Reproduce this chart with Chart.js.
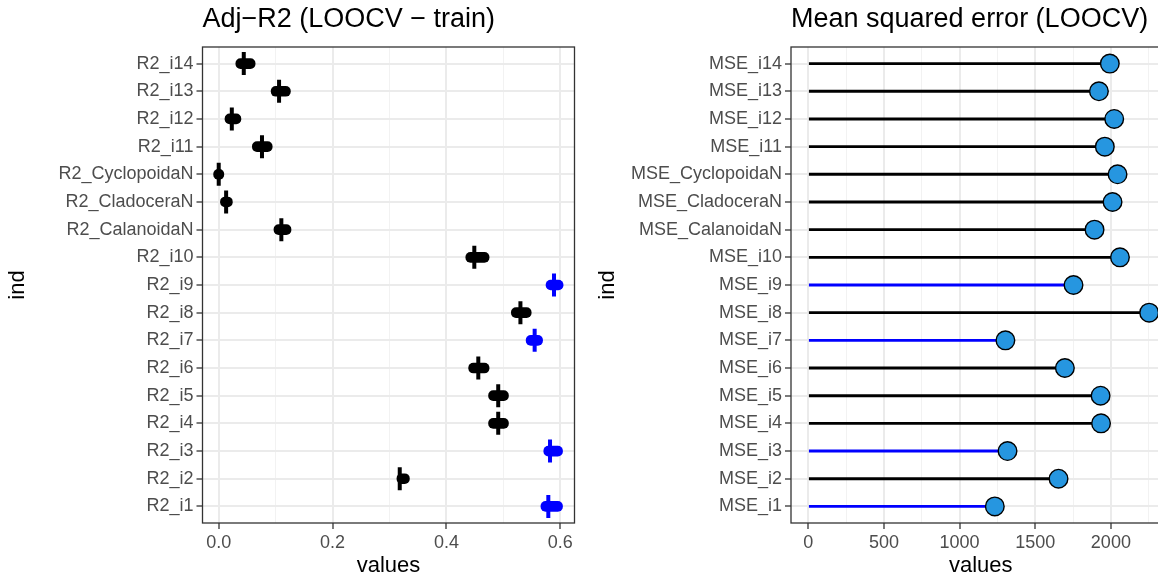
<!DOCTYPE html>
<html>
<head>
<meta charset="utf-8">
<script src="https://cdn.jsdelivr.net/npm/chart.js@4.4.1/dist/chart.umd.min.js"></script>
<style>
  html, body { margin: 0; padding: 0; background: #ffffff; overflow: hidden; width: 1158px; height: 575px; }
  #wrapL { position: absolute; left: 0; top: 0; width: 590px; height: 575px; }
  #wrapR { position: absolute; left: 590px; top: 0; width: 600px; height: 575px; }
</style>
</head>
<body>
<div id="wrapL"><canvas id="left" width="590" height="575"></canvas></div>
<div id="wrapR"><canvas id="right" width="600" height="575"></canvas></div>
<script>
// ---------- DATA (index 0 = bottom row) ----------
const groups = ['i1','i2','i3','i4','i5','i6','i7','i8','i9','i10',
                'CalanoidaN','CladoceraN','CyclopoidaN','i11','i12','i13','i14'];
const r2Labels  = groups.map(g => 'R2_' + g);
const mseLabels = groups.map(g => 'MSE_' + g);

// Adj-R2 LOOCV spread: low end, high end, median
const r2Low    = [0.566, 0.313, 0.571, 0.474, 0.474, 0.439, 0.540, 0.514, 0.575, 0.434,
                  0.097, 0.003, -0.009, 0.059, 0.011, 0.092, 0.030];
const r2High   = [0.604, 0.335, 0.604, 0.509, 0.509, 0.475, 0.569, 0.549, 0.605, 0.475,
                  0.127, 0.024, 0.009, 0.094, 0.039, 0.126, 0.064];
const r2Median = [0.579, 0.318, 0.582, 0.491, 0.491, 0.456, 0.555, 0.530, 0.589, 0.449,
                  0.110, 0.013, 0.000, 0.076, 0.023, 0.106, 0.044];

// Mean squared error (LOOCV)
const mseValues = [1233, 1654, 1317, 1935, 1932, 1696, 1303, 2253, 1753, 2060,
                   1892, 2011, 2044, 1960, 2022, 1921, 1993];

// selected models (drawn in blue)
const selected = [1,0,1,0,0,0,1,0,1,0,0,0,0,0,0,0,0];

// labelled (major) ticks and all grid positions (major + minor)
const r2Ticks     = [0, 0.2, 0.4, 0.6];
const r2GridTicks = [0, 0.1, 0.2, 0.3, 0.4, 0.5, 0.6];
const mseTicks     = [0, 500, 1000, 1500, 2000];
const mseGridTicks = [0, 250, 500, 750, 1000, 1250, 1500, 1750, 2000, 2250];

// ---------- STYLE ----------
const FONT = "'Liberation Sans', Arial, Helvetica, sans-serif";
const colorOf = i => selected[i] ? '#0000ff' : '#000000';
const GRID = '#ebebeb';

function isMajor(c, list) {
  if (!c || !c.tick) return true;
  const v = c.tick.value;
  return list.some(t => Math.abs(t - v) < 1e-6);
}
function isMajorVal(v, list) { return list.some(t => Math.abs(t - v) < 1e-6); }

const panelPlugin = {
  id: 'panel',
  afterDraw(chart, args, opts) {
    const {ctx, chartArea: a} = chart;
    ctx.save();
    ctx.strokeStyle = '#333333';
    ctx.lineWidth = 1.3;
    ctx.strokeRect(a.left, a.top, a.right - a.left, a.bottom - a.top);
    ctx.fillStyle = '#000000';
    ctx.font = '27px ' + FONT;
    ctx.textAlign = 'left';
    ctx.textBaseline = 'alphabetic';
    ctx.fillText(opts.title, a.left, 27);
    ctx.restore();
  }
};

function makeOptions(cfg) {
  return {
    responsive: false,
    animation: false,
    events: [],
    indexAxis: 'y',
    layout: { padding: { top: 47, bottom: 0, left: 0, right: cfg.padRight } },
    plugins: { legend: { display: false }, tooltip: { enabled: false }, panel: { title: cfg.title } },
    scales: {
      x: {
        type: 'linear',
        offset: false,
        min: cfg.xmin, max: cfg.xmax,
        afterFit: s => { s.height = 52; },
        afterBuildTicks: s => { s.ticks = cfg.grid.map(v => ({ value: v })); },
        border: { display: false },
        grid: {
          offset: false,
          color: c => isMajor(c, cfg.major) ? GRID : '#f2f2f2',
          lineWidth: c => isMajor(c, cfg.major) ? 2 : 1,
          tickColor: c => isMajor(c, cfg.major) ? '#333333' : 'rgba(0,0,0,0)',
          tickLength: 6,
          tickWidth: 1.3
        },
        ticks: {
          autoSkip: false,
          maxRotation: 0,
          padding: 3,
          color: '#4d4d4d',
          font: { family: FONT, size: 18 },
          callback: v => isMajorVal(v, cfg.major) ? cfg.fmt(v) : ''
        },
        title: { display: true, text: 'values', color: '#000000',
                 font: { family: FONT, size: 22 }, padding: { top: 0, bottom: -4 } }
      },
      y: {
        type: 'linear',
        offset: false,
        min: -0.6, max: 16.6,
        afterFit: s => { s.width = cfg.yWidth; },
        afterBuildTicks: s => { s.ticks = cfg.labels.map((l, i) => ({ value: i })); },
        border: { display: false },
        grid: { offset: false, color: GRID, lineWidth: 2, tickColor: '#333333', tickLength: 6, tickWidth: 1.3 },
        ticks: {
          autoSkip: false,
          padding: 3,
          color: '#4d4d4d',
          font: { family: FONT, size: 18 },
          callback: v => cfg.labels[Math.round(v)] ?? ''
        },
        title: { display: true, text: 'ind', color: '#000000',
                 font: { family: FONT, size: 22 }, padding: { top: 5, bottom: 0 } }
      }
    }
  };
}

// ---------- LEFT: Adj-R2 ----------
new Chart(document.getElementById('left'), {
  type: 'bar',
  data: {
    datasets: [
      {
        type: 'bar',
        order: 1,
        data: groups.map((g, i) => ({ y: i, x: [r2Low[i], r2High[i]] })),
        backgroundColor: groups.map((g, i) => colorOf(i)),
        borderWidth: 0,
        barThickness: 10,
        borderRadius: 5,
        borderSkipped: false
      },
      {
        type: 'scatter',
        order: 0,
        data: groups.map((g, i) => ({ x: r2Median[i], y: i })),
        pointStyle: 'line',
        rotation: 90,
        pointRadius: 11.5,
        borderWidth: 4,
        borderColor: groups.map((g, i) => colorOf(i)),
        backgroundColor: groups.map((g, i) => colorOf(i))
      }
    ]
  },
  options: makeOptions({
    title: 'Adj\u2212R2 (LOOCV \u2212 train)',
    xmin: -0.0285, xmax: 0.625, grid: r2GridTicks, major: r2Ticks,
    fmt: v => v.toFixed(1), labels: r2Labels, yWidth: 202.5, padRight: 12.5
  }),
  plugins: [panelPlugin]
});

// ---------- RIGHT: MSE ----------
new Chart(document.getElementById('right'), {
  type: 'bar',
  data: {
    datasets: [
      {
        type: 'bar',
        order: 1,
        data: groups.map((g, i) => ({ y: i, x: mseValues[i] })),
        backgroundColor: groups.map((g, i) => colorOf(i)),
        borderWidth: 0,
        barThickness: 2.2
      },
      {
        type: 'scatter',
        order: 0,
        data: groups.map((g, i) => ({ x: mseValues[i], y: i })),
        pointStyle: 'circle',
        pointRadius: 9.3,
        borderWidth: 1.4,
        borderColor: '#000000',
        backgroundColor: '#2696e0',
        clip: false
      }
    ]
  },
  options: makeOptions({
    title: 'Mean squared error (LOOCV)',
    xmin: -114, xmax: 2394, grid: mseGridTicks, major: mseTicks,
    fmt: v => String(Math.round(v)), labels: mseLabels, yWidth: 201, padRight: 19.5
  }),
  plugins: [panelPlugin]
});
</script>
</body>
</html>
